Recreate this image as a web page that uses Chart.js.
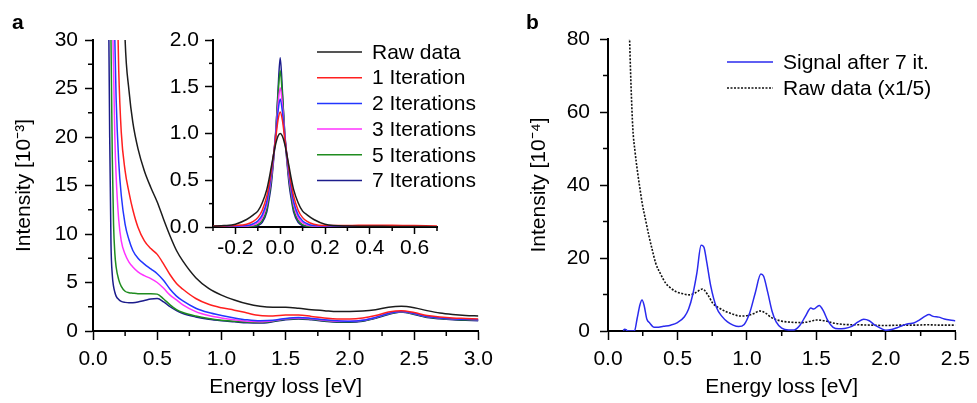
<!DOCTYPE html>
<html>
<head>
<meta charset="utf-8">
<script src="https://cdn.jsdelivr.net/npm/chart.js@4.4.1/dist/chart.umd.min.js"></script>
<style>
  html, body { margin: 0; padding: 0; background: #fff; }
  #wrap { position: relative; width: 977px; height: 403px; overflow: hidden; font-family: "Liberation Sans", Arial, sans-serif; }
  canvas { position: absolute; }
  .panel { position: absolute; font-weight: bold; font-size: 21px; line-height: 21px; }
</style>
</head>
<body>
<div id="wrap">
  <canvas id="chartA" width="500" height="403" style="left:0;top:0"></canvas>
  <canvas id="chartInset" width="290" height="240" style="left:160px;top:20px"></canvas>
  <canvas id="chartB" width="457" height="403" style="left:520px;top:0"></canvas>
  <div class="panel" style="left:12px;top:11px">a</div>
  <div class="panel" style="left:526px;top:11px">b</div>
</div>
<script>
// panel a : energy loss (eV) and intensity (10^-3)
const energyA = [0.10, 0.12, 0.13, 0.14, 0.15, 0.16, 0.17, 0.18, 0.20, 0.22, 0.25, 0.28, 0.31, 0.35, 0.40, 0.45, 0.50, 0.55, 0.60, 0.65, 0.70, 0.80, 0.90, 1.00, 1.10, 1.20, 1.30, 1.40, 1.50, 1.60, 1.70, 1.80, 1.90, 2.00, 2.10, 2.20, 2.30, 2.40, 2.50, 2.60, 2.70, 2.80, 2.90, 3.00];
const rawA  = [200, 170, 150, 130, 115, 100, 90, 80, 62, 46, 30, 24.8, 21.5, 18.8, 16.5, 14.8, 13.3, 11.5, 9.8, 8.3, 7.2, 5.5, 4.4, 3.7, 3.2, 2.8, 2.55, 2.45, 2.45, 2.35, 2.2, 2.1, 2.0, 2.0, 2.05, 2.2, 2.45, 2.55, 2.4, 2.1, 1.85, 1.7, 1.6, 1.55];
const it1A  = [120, 100, 90, 80, 70, 60, 50, 40, 27, 20.5, 16.5, 14.3, 12.5, 10.7, 9.3, 8.5, 7.9, 6.9, 5.8, 4.9, 4.3, 3.35, 2.75, 2.4, 2.15, 1.85, 1.6, 1.55, 1.65, 1.65, 1.5, 1.35, 1.25, 1.25, 1.35, 1.6, 1.95, 2.1, 1.9, 1.6, 1.45, 1.35, 1.3, 1.25];
const it2A  = [100, 85, 75, 60, 48, 38, 30, 24, 17.5, 14, 11, 9.4, 8.3, 7.5, 6.9, 6.4, 5.9, 5.2, 4.3, 3.6, 3.1, 2.35, 1.9, 1.6, 1.35, 1.15, 1.05, 1.1, 1.3, 1.4, 1.3, 1.15, 1.05, 1.0, 1.1, 1.4, 1.8, 2.0, 1.8, 1.5, 1.35, 1.25, 1.2, 1.15];
const it3A  = [90, 70, 60, 45, 34, 27, 20, 16, 11.5, 9.3, 7.9, 7.1, 6.6, 6.1, 5.7, 5.4, 5.0, 4.4, 3.7, 3.2, 2.7, 2.0, 1.6, 1.35, 1.15, 1.0, 0.95, 1.05, 1.25, 1.35, 1.25, 1.1, 1.0, 1.0, 1.1, 1.4, 1.8, 2.0, 1.8, 1.5, 1.35, 1.25, 1.2, 1.15];
const it5A  = [70, 50, 40, 30, 18, 11, 8.0, 6.6, 5.3, 4.6, 4.1, 3.95, 3.9, 3.85, 3.85, 3.85, 3.8, 3.3, 2.7, 2.2, 1.9, 1.55, 1.3, 1.12, 1.0, 0.92, 0.88, 1.0, 1.2, 1.3, 1.2, 1.05, 0.95, 0.95, 1.05, 1.35, 1.75, 1.95, 1.75, 1.45, 1.3, 1.2, 1.15, 1.1];
const it7A  = [60, 36, 20, 9, 5.8, 4.6, 4.0, 3.6, 3.25, 3.05, 2.95, 2.9, 2.92, 3.0, 3.15, 3.3, 3.35, 3.0, 2.5, 2.1, 1.8, 1.45, 1.2, 1.05, 0.95, 0.85, 0.82, 0.95, 1.15, 1.25, 1.15, 1.0, 0.9, 0.9, 1.0, 1.3, 1.7, 1.95, 1.7, 1.4, 1.25, 1.15, 1.1, 1.05];

// inset : zero loss peak
const energyInset = [-0.3, -0.25, -0.2, -0.15, -0.12, -0.1, -0.08, -0.06, -0.05, -0.04, -0.03, -0.02, -0.01, 0, 0.01, 0.02, 0.03, 0.04, 0.05, 0.06, 0.08, 0.1, 0.12, 0.15, 0.2, 0.3, 0.4, 0.5, 0.6, 0.7];
const rawInset = [0.008, 0.015, 0.03, 0.08, 0.13, 0.17, 0.26, 0.4, 0.51, 0.64, 0.77, 0.89, 0.97, 1.0, 0.97, 0.89, 0.77, 0.64, 0.51, 0.4, 0.26, 0.17, 0.13, 0.08, 0.03, 0.01, 0.008, 0.006, 0.005, 0.004];
const it1Inset = [0.01, 0.012, 0.016, 0.03, 0.06, 0.1, 0.18, 0.33, 0.45, 0.6, 0.77, 0.95, 1.14, 1.23, 1.14, 0.95, 0.77, 0.6, 0.45, 0.33, 0.18, 0.1, 0.06, 0.03, 0.016, 0.015, 0.02, 0.02, 0.015, 0.01];
const it2Inset = [0.005, 0.007, 0.01, 0.015, 0.035, 0.065, 0.13, 0.27, 0.4, 0.56, 0.76, 0.98, 1.23, 1.37, 1.23, 0.98, 0.76, 0.56, 0.4, 0.27, 0.13, 0.065, 0.035, 0.015, 0.01, 0.006, 0.005, 0.005, 0.004, 0.003];
const it3Inset = [0.004, 0.005, 0.007, 0.01, 0.02, 0.045, 0.1, 0.24, 0.37, 0.53, 0.74, 1.0, 1.3, 1.49, 1.3, 1.0, 0.74, 0.53, 0.37, 0.24, 0.1, 0.045, 0.02, 0.01, 0.007, 0.005, 0.004, 0.004, 0.003, 0.003];
const it5Inset = [0.003, 0.004, 0.005, 0.005, 0.01, 0.025, 0.07, 0.19, 0.33, 0.5, 0.73, 1.02, 1.4, 1.67, 1.4, 1.02, 0.73, 0.5, 0.33, 0.19, 0.07, 0.025, 0.01, 0.005, 0.005, 0.004, 0.003, 0.003, 0.002, 0.002];
const it7Inset = [0.002, 0.003, 0.004, 0.004, 0.006, 0.015, 0.05, 0.16, 0.29, 0.45, 0.7, 1.0, 1.45, 1.81, 1.45, 1.0, 0.7, 0.45, 0.29, 0.16, 0.05, 0.015, 0.006, 0.004, 0.004, 0.003, 0.002, 0.002, 0.002, 0.002];

// panel b : intensity (10^-4)
const energySignal = [0.11, 0.12, 0.13, 0.14, 0.19, 0.21, 0.23, 0.245, 0.26, 0.28, 0.30, 0.33, 0.35, 0.40, 0.45, 0.50, 0.55, 0.58, 0.61, 0.64, 0.67, 0.69, 0.71, 0.74, 0.78, 0.82, 0.86, 0.90, 0.94, 0.98, 1.02, 1.06, 1.10, 1.12, 1.15, 1.18, 1.21, 1.25, 1.30, 1.34, 1.38, 1.42, 1.46, 1.48, 1.52, 1.55, 1.58, 1.62, 1.66, 1.70, 1.75, 1.80, 1.84, 1.88, 1.92, 1.96, 2.00, 2.04, 2.08, 2.12, 2.16, 2.20, 2.24, 2.28, 2.31, 2.34, 2.38, 2.42, 2.46, 2.50];
const signal7 = [0.1, 0.5, 0.4, 0, 0, 3.5, 7.2, 8.5, 7.0, 3.2, 2.2, 1.0, 1.0, 1.3, 1.6, 2.3, 3.9, 6, 10, 16, 23.5, 23, 19, 12.2, 6.5, 4.0, 2.5, 1.6, 1.2, 1.8, 5.0, 10.5, 15.6, 15, 10.5, 5.5, 2.5, 0.8, 0.3, 0.3, 1.5, 4, 6.3, 6.0, 7.0, 5.5, 3, 1.0, 0.6, 0.7, 1.2, 2.5, 3.2, 2.8, 1.6, 0.8, 0.2, 0.4, 0.9, 1.5, 2.0, 2.2, 3.0, 4.0, 4.5, 4.0, 3.8, 3.3, 3.0, 2.8];
const energyRawB = [0.155, 0.165, 0.179, 0.195, 0.21, 0.23, 0.246, 0.27, 0.295, 0.32, 0.343, 0.38, 0.415, 0.45, 0.488, 0.54, 0.585, 0.63, 0.68, 0.72, 0.754, 0.80, 0.85, 0.90, 0.947, 1.00, 1.05, 1.09, 1.13, 1.18, 1.25, 1.32, 1.40, 1.46, 1.50, 1.56, 1.62, 1.70, 1.80, 1.90, 2.00, 2.10, 2.20, 2.30, 2.40, 2.50];
const rawFifth = [80.5, 68, 55.3, 49, 44.3, 39, 35, 30.5, 26, 22, 18.6, 15.5, 13.1, 11.8, 10.8, 10.2, 9.9, 10.5, 11.5, 9.8, 7.6, 6.3, 5.3, 4.6, 4.1, 4.2, 4.8, 5.5, 5.0, 3.6, 2.7, 2.4, 2.3, 2.7, 3.0, 2.8, 2.2, 1.8, 1.7, 1.6, 1.5, 1.6, 1.6, 1.7, 1.6, 1.6];

Chart.defaults.font.family = '"Liberation Sans", Arial, sans-serif';
Chart.defaults.font.size = 21;
Chart.defaults.color = '#000';
Chart.defaults.animation = false;

const pts = (xs, ys) => xs.map((x, i) => ({ x: x, y: ys[i] }));

// draws the short, unlabeled ticks
const minorTicks = {
  id: 'minorTicks',
  afterDraw(chart, args, opts) {
    if (!opts.len) return;
    const ctx = chart.ctx;
    ctx.save();
    ctx.strokeStyle = '#000';
    ctx.lineWidth = 1.5;
    Object.values(chart.scales).forEach(s => {
      s.ticks.forEach(t => {
        if (t.label !== '') return;
        const p = s.getPixelForValue(t.value);
        ctx.beginPath();
        if (s.isHorizontal()) { ctx.moveTo(p, s.top); ctx.lineTo(p, s.top + opts.len); }
        else { ctx.moveTo(s.right - opts.len, p); ctx.lineTo(s.right, p); }
        ctx.stroke();
      });
    });
    ctx.restore();
  }
};

// legend drawn at a fixed spot inside the plot
const lineLegend = {
  id: 'lineLegend',
  afterDraw(chart, args, opts) {
    if (opts.x === undefined) return;
    const ctx = chart.ctx;
    ctx.save();
    ctx.font = '21px "Liberation Sans", Arial, sans-serif';
    ctx.textBaseline = 'middle';
    ctx.fillStyle = '#000';
    chart.data.datasets.forEach((ds, i) => {
      const y = opts.y + i * opts.gap;
      ctx.strokeStyle = ds.borderColor;
      ctx.lineWidth = ds.borderWidth;
      ctx.setLineDash(ds.borderDash || []);
      ctx.beginPath();
      ctx.moveTo(opts.x, y);
      ctx.lineTo(opts.x + opts.len, y);
      ctx.stroke();
      ctx.setLineDash([]);
      ctx.fillText(ds.label, opts.x + opts.len + opts.textGap, y + 1);
    });
    ctx.restore();
  }
};

Chart.register(minorTicks, lineLegend);

function axis(min, max, step, isMajor, fmt, o) {
  return {
    type: 'linear', min: min, max: max,
    border: { color: '#000', width: 2 },
    grid: {
      drawOnChartArea: false,
      tickLength: o.tick,
      tickWidth: 1.5,
      tickColor: c => (c.tick && c.tick.label !== '') ? '#000' : 'rgba(0,0,0,0)'
    },
    ticks: {
      stepSize: step, autoSkip: false, maxRotation: 0, padding: o.pad,
      callback: v => isMajor(v) ? fmt(v) : ''
    },
    title: o.title ? { display: true, text: o.title, font: { size: 21 }, padding: { top: 3, bottom: 3 } } : { display: false },
    afterFit: s => { if (o.size) { if (s.isHorizontal()) s.height = o.size; else s.width = o.size; } }
  };
}

const half = v => Math.abs(v * 2 - Math.round(v * 2)) < 1e-6;
const fix1 = v => (Math.abs(v) < 1e-9 ? 0 : v).toFixed(1);

function line(label, color, xs, ys, width) {
  return {
    label: label, data: pts(xs, ys), borderColor: color, borderWidth: width || 1.5,
    pointRadius: 0, cubicInterpolationMode: 'monotone', fill: false
  };
}

const colors = ['#1c1c1c', '#ff1f1f', '#2236ff', '#ff33ff', '#1f8c1f', '#1c1c8c'];
const labelsA = ['Raw data', '1 Iteration', '2 Iterations', '3 Iterations', '5 Iterations', '7 Iterations'];

new Chart(document.getElementById('chartA'), {
  type: 'line',
  data: {
    datasets: [
      line(labelsA[0], colors[0], energyA, rawA),
      line(labelsA[1], colors[1], energyA, it1A),
      line(labelsA[2], colors[2], energyA, it2A),
      line(labelsA[3], colors[3], energyA, it3A),
      line(labelsA[4], colors[4], energyA, it5A),
      line(labelsA[5], colors[5], energyA, it7A)
    ]
  },
  options: {
    responsive: false,
    layout: { padding: { left: 9, top: 40, right: 20, bottom: 0 } },
    plugins: {
      legend: { display: false }, tooltip: { enabled: false },
      minorTicks: { len: 5 },
      lineLegend: { x: 317, y: 52, gap: 25.7, len: 45, textGap: 10 }
    },
    scales: {
      x: axis(0, 3, 0.25, half, fix1, { tick: 9, pad: 7, size: 72, title: 'Energy loss [eV]' }),
      y: axis(0, 30, 2.5, v => v % 5 === 0, v => String(v), { tick: 8, pad: 7, size: 84, title: 'Intensity [10⁻³]' })
    }
  }
});

new Chart(document.getElementById('chartInset'), {
  type: 'line',
  data: {
    datasets: [
      line(labelsA[0], colors[0], energyInset, rawInset),
      line(labelsA[1], colors[1], energyInset, it1Inset),
      line(labelsA[2], colors[2], energyInset, it2Inset),
      line(labelsA[3], colors[3], energyInset, it3Inset),
      line(labelsA[4], colors[4], energyInset, it5Inset),
      line(labelsA[5], colors[5], energyInset, it7Inset)
    ]
  },
  options: {
    responsive: false,
    layout: { padding: { left: 0, top: 20, right: 13, bottom: 0 } },
    plugins: { legend: { display: false }, tooltip: { enabled: false }, minorTicks: { len: 4 } },
    scales: {
      x: axis(-0.3, 0.7, 0.1, v => Math.round(v * 10) % 2 === 0, fix1, { tick: 7, pad: 2, size: 33 }),
      y: axis(0, 2, 0.25, half, fix1, { tick: 8, pad: 6, size: 53 })
    }
  }
});

new Chart(document.getElementById('chartB'), {
  type: 'line',
  data: {
    datasets: [
      line('Signal after 7 it.', '#2a2aee', energySignal, signal7),
      Object.assign(line('Raw data (x1/5)', '#111', energyRawB, rawFifth, 1.6), { borderDash: [2, 1.5] })
    ]
  },
  options: {
    responsive: false,
    layout: { padding: { left: 4, top: 39, right: 15, bottom: 0 } },
    plugins: {
      legend: { display: false }, tooltip: { enabled: false },
      minorTicks: { len: 5 },
      lineLegend: { x: 207, y: 62, gap: 26, len: 46, textGap: 10 }
    },
    scales: {
      x: axis(0, 2.5, 0.25, half, fix1, { tick: 9, pad: 7, size: 72, title: 'Energy loss [eV]' }),
      y: axis(0, 80, 10, v => v % 20 === 0, v => String(v), { tick: 8, pad: 10, size: 84, title: 'Intensity [10⁻⁴]' })
    }
  }
});
</script>
</body>
</html>
